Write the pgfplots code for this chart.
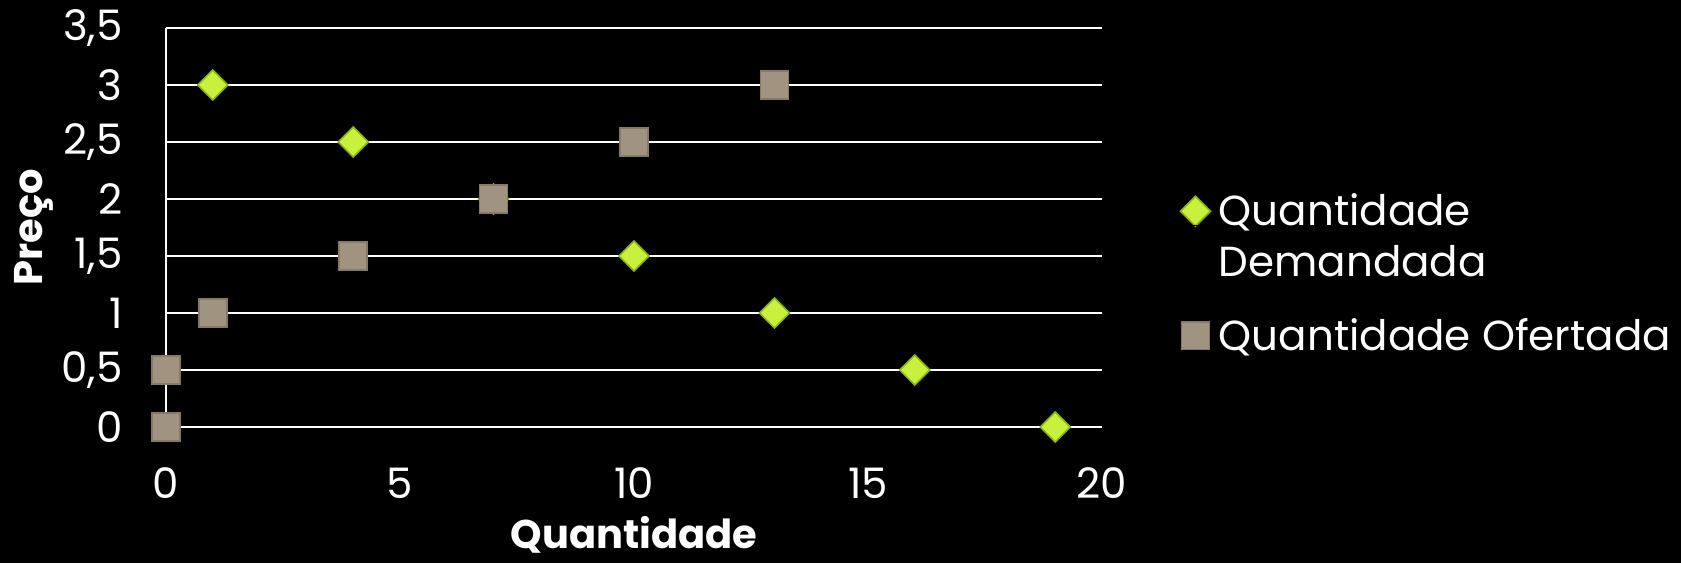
\documentclass[border=0pt]{standalone}
\usepackage{pgfplots}
\pgfplotsset{compat=1.18}
\usepackage{fontspec}
\setmainfont{Poppins}
\definecolor{demfill}{HTML}{C8F03C}
\definecolor{demedge}{HTML}{8DB800}
\definecolor{offill}{HTML}{A09480}
\definecolor{ofedge}{HTML}{857A65}

\pgfplotstableread{
q p
19 0
16 0.5
13 1
10 1.5
7  2
4  2.5
1  3
}\demanda
\pgfplotstableread{
q p
0  0
0  0.5
1  1
4  1.5
7  2
10 2.5
13 3
}\oferta

\begin{document}
\begin{tikzpicture}
\fill[black] (-83pt,-68pt) rectangle (757.5pt,213.5pt);
\useasboundingbox (-83pt,-68pt) rectangle (757.5pt,213.5pt);
\begin{axis}[
  at={(0,0)}, anchor=south west,
  scale only axis, width=468pt, height=199.5pt,
  xmin=0, xmax=20, ymin=0, ymax=3.5,
  xtick={0,5,10,15,20},
  ytick={0,0.5,1,1.5,2,2.5,3,3.5},
  clip=false,
  axis lines=left,
  x axis line style={draw=none},
  y axis line style={white, line width=1pt, -},
  major tick length=0pt,
  ymajorgrids,
  grid style={white, line width=1pt},
  /pgf/number format/use comma,
  /pgf/number format/assume math mode=true,
  ticklabel style={font=\fontsize{21}{25}\selectfont, text=white},
  yticklabel style={anchor=east, inner sep=0pt, xshift=-21.5pt},
  xticklabel style={anchor=center, inner sep=0pt, yshift=-28pt},
  xlabel={\textbf{Quantidade}},
  ylabel={\textbf{Preço}},
  label style={font=\fontsize{20}{24}\selectfont, text=white},
  xlabel style={at={(axis description cs:0.5,0)}, anchor=center, yshift=-54pt},
  ylabel style={at={(axis description cs:0,0.5)}, anchor=center, yshift=66pt},
  legend style={
    at={(rel axis cs:1.077,0.597)}, anchor=north west,
    draw=none, fill=none, text=white,
    font=\fontsize{21}{25.5}\selectfont,
    nodes={inner sep=0pt},
    row sep=45pt,
    cells={anchor=base west},
  },
  legend image code/.code={\draw[#1] plot coordinates {(0pt,7pt)};\path (-7pt,0pt) rectangle (11.5pt,0pt);},
]
\addplot[only marks, mark=square*, mark size=5.3pt,
  mark options={rotate=45, fill=demfill, draw=demedge, line width=0.8pt}]
  table[x=q, y=p] {\demanda};
\addlegendentry{\vtop{\hbox{Quantidade}\hbox{Demandada}}}
\addplot[only marks, mark=square*, mark size=7pt,
  mark options={fill=offill, draw=ofedge, line width=0.8pt}]
  table[x=q, y=p] {\oferta};
\addlegendentry{Quantidade Ofertada}
\end{axis}
\end{tikzpicture}
\end{document}
